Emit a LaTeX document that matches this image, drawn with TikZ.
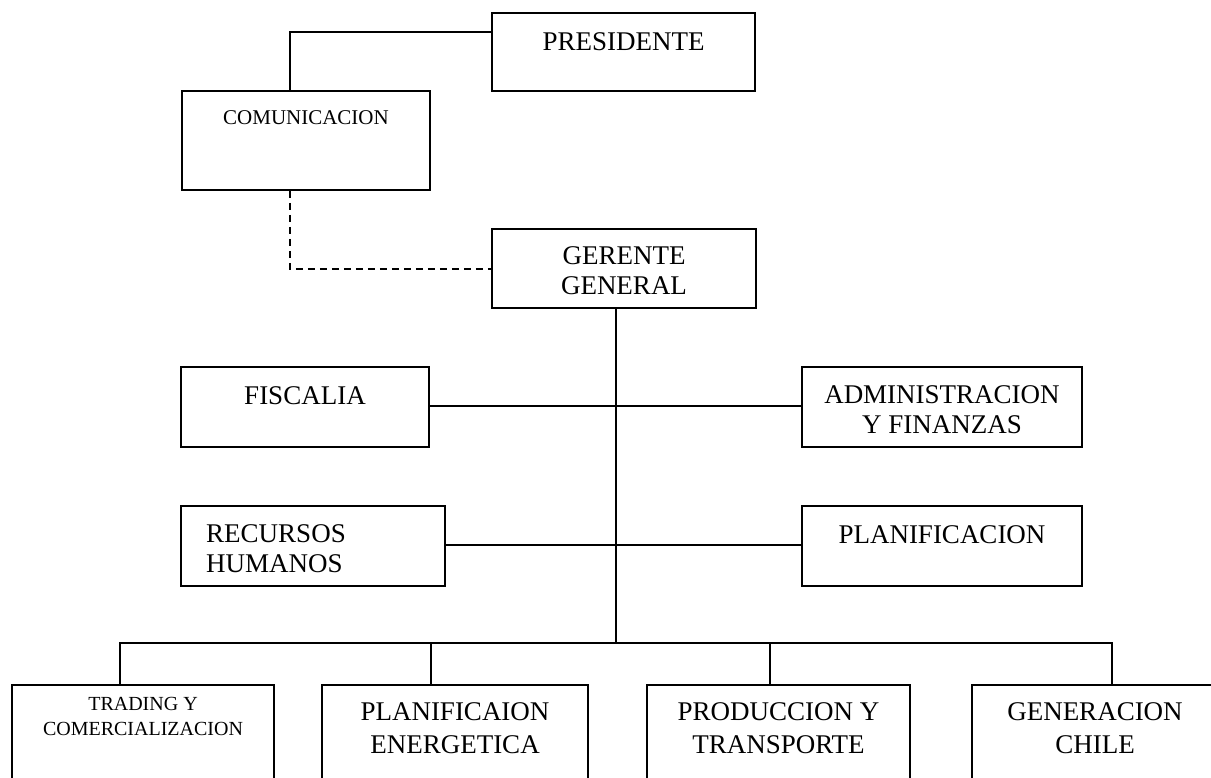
\documentclass[tikz,border=0pt]{standalone}
\usepackage{fontspec}
\setmainfont{Liberation Serif}
\usetikzlibrary{calc}
\begin{document}
\begin{tikzpicture}[x=1pt,y=-1pt,
  box/.style={draw=black,line width=1.6pt,rectangle,inner sep=0pt,fill=white},
  txt/.style={anchor=north,inner sep=0pt,align=center,font=\fontsize{27}{30}\selectfont},
  lowtxt/.style={txt,font=\fontsize{27}{33}\selectfont},
  smalltxt/.style={txt,font=\fontsize{21}{24}\selectfont},
  tinytxt/.style={txt,font=\fontsize{20}{25}\selectfont},
  conn/.style={draw=black,line width=1.6pt},
  dconn/.style={conn,dash pattern=on 7pt off 5pt}]
\useasboundingbox (0,0) rectangle (1211,777);
% boxes
\node[box,minimum width=263pt,minimum height=78pt] (pres) at (623.5,52) {};
\node[box,minimum width=248pt,minimum height=99pt] (com) at (306,140.5) {};
\node[box,minimum width=264pt,minimum height=79pt] (ger) at (624,268.5) {};
\node[box,minimum width=248pt,minimum height=80pt] (fisc) at (305,407) {};
\node[box,minimum width=280pt,minimum height=80pt] (adm) at (942,407) {};
\node[box,minimum width=264pt,minimum height=80pt] (rrhh) at (313,546) {};
\node[box,minimum width=280pt,minimum height=80pt] (plan) at (942,546) {};
\node[box,minimum width=262pt,minimum height=120pt] (trad) at (143,745) {};
\node[box,minimum width=266pt,minimum height=120pt] (pe) at (455,745) {};
\node[box,minimum width=263pt,minimum height=120pt] (prod) at (778.5,745) {};
\node[box,minimum width=246pt,minimum height=120pt] (gen) at (1095,745) {};
% texts
\node[txt] (presT) at ($(pres.north)+(0,20)$) {PRESIDENTE};
\node[smalltxt] (comT) at ($(com.north)+(0,20)$) {COMUNICACION};
\node[txt] (gerT) at ($(ger.north)+(0,18)$) {GERENTE\\GENERAL};
\node[txt] (fiscT) at ($(fisc.north)+(0,20)$) {FISCALIA};
\node[txt] (admT) at ($(adm.north)+(0,19)$) {ADMINISTRACION\\Y FINANZAS};
\node[txt,align=left] (rrhhT) at ($(rrhh.north)+(-37,19)$) {RECURSOS\\HUMANOS};
\node[txt] (planT) at ($(plan.north)+(0,20)$) {PLANIFICACION};
\node[tinytxt] (tradT) at ($(trad.north)+(0,13)$) {TRADING Y\\COMERCIALIZACION};
\node[lowtxt] (peT) at ($(pe.north)+(0,18)$) {PLANIFICAION\\ENERGETICA};
\node[lowtxt] (prodT) at ($(prod.north)+(0,18)$) {PRODUCCION Y\\TRANSPORTE};
\node[lowtxt] (genT) at ($(gen.north)+(0,18)$) {GENERACION\\CHILE};
% connectors
\coordinate (bus) at (616,643);
\coordinate (busL) at (120,643);
\coordinate (busR) at (1112,643);
\draw[conn] (pres.west|-0,32) -| (com.north-|290,0);
\draw[dconn] (com.south-|290,0) |- (ger.west|-0,269);
\draw[conn] (ger.south-|bus) -- (bus);
\draw[conn] (fisc.east|-0,406) -- (adm.west|-0,406);
\draw[conn] (rrhh.east|-0,545) -- (plan.west|-0,545);
\draw[conn] (trad.north-|busL) -- (busL) -- (busR) -- (gen.north-|busR);
\draw[conn] (pe.north-|431,0) -- (431,643);
\draw[conn] (prod.north-|770,0) -- (770,643);
\end{tikzpicture}
\end{document}
